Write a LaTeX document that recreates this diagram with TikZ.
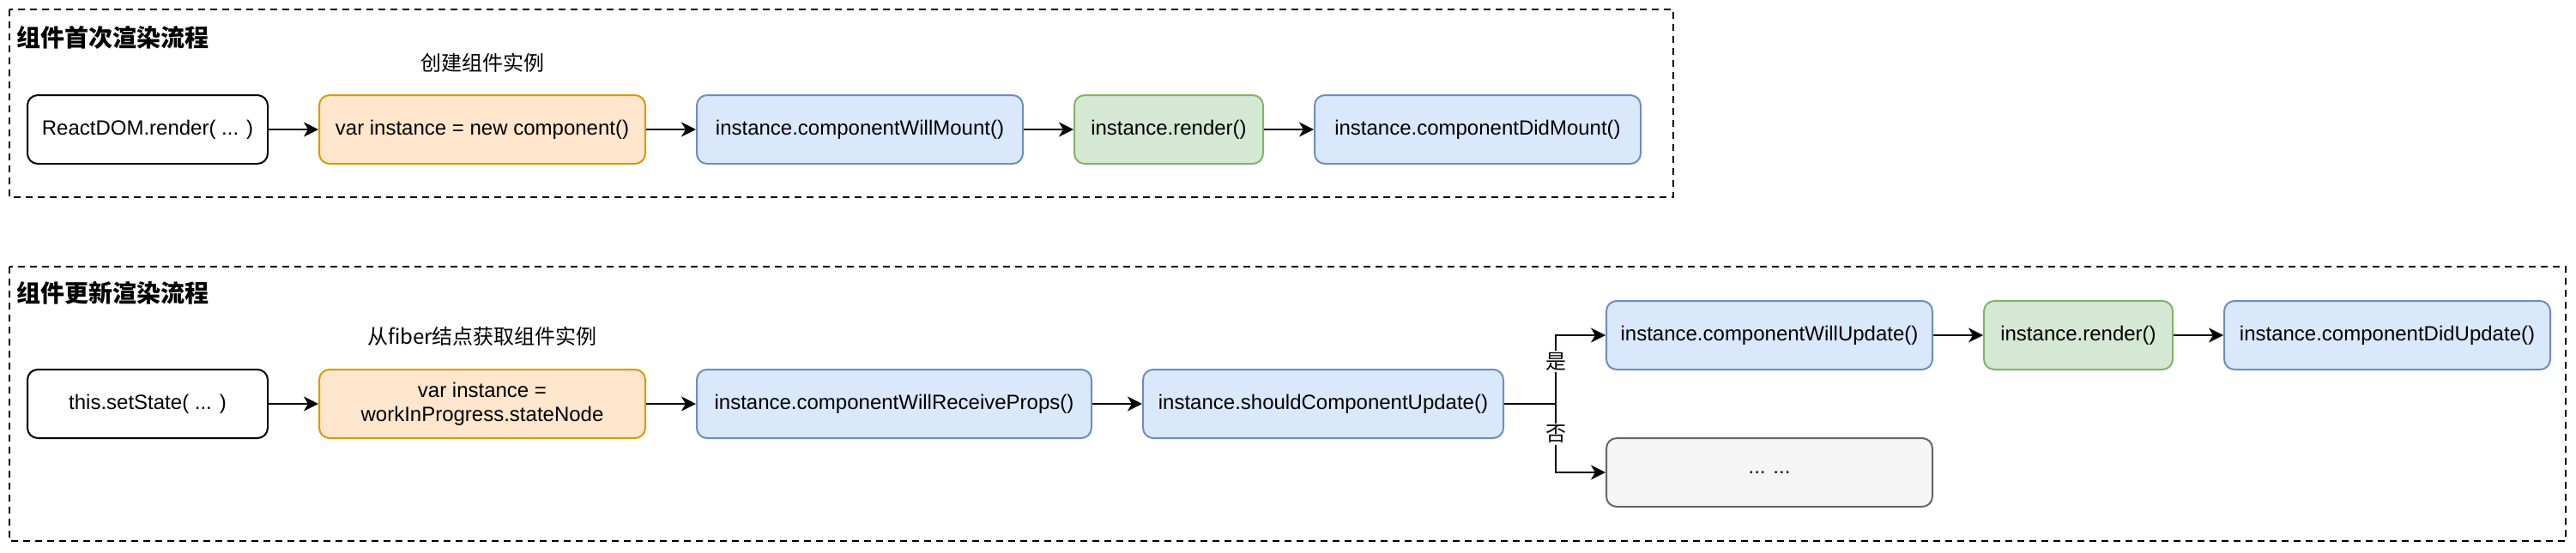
\documentclass[tikz,border=0pt]{standalone}
\usepackage{fontspec}
\setmainfont{Liberation Sans}
\newfontfamily\cjk{Noto Sans CJK SC}
\usetikzlibrary{arrows.meta}
\definecolor{orangefill}{HTML}{FFE6CC}
\definecolor{orangeline}{HTML}{D79B00}
\definecolor{bluefill}{HTML}{DAE8FC}
\definecolor{blueline}{HTML}{6C8EBF}
\definecolor{greenfill}{HTML}{D5E8D4}
\definecolor{greenline}{HTML}{82B366}
\definecolor{greyfill}{HTML}{F5F5F5}
\definecolor{greyline}{HTML}{666666}

\begin{document}
\begin{tikzpicture}[x=1pt,y=-1pt,
        stepbox/.style={draw,rounded corners=6pt,line width=1pt,minimum height=40pt,inner sep=0pt,align=center,font=\fontsize{12pt}{14pt}\selectfont},
        plainbox/.style={stepbox,fill=white,draw=black},
        makebox/.style={stepbox,fill=orangefill,draw=orangeline,minimum width=190pt},
        hookbox/.style={stepbox,fill=bluefill,draw=blueline},
        renderbox/.style={stepbox,fill=greenfill,draw=greenline,minimum width=110pt},
        restbox/.style={stepbox,fill=greyfill,draw=greyline,minimum width=190pt},
        frame/.style={draw,line width=1pt,dash pattern=on 4pt off 3pt},
        flowtitle/.style={anchor=west,inner sep=0pt,font=\cjk\bfseries\fontsize{14pt}{16pt}\selectfont},
        caption/.style={inner sep=0pt,font=\cjk\fontsize{12pt}{14pt}\selectfont},
        branchlabel/.style={fill=white,inner sep=1pt,font=\cjk\fontsize{12pt}{14pt}\selectfont},
        flow/.style={line width=1pt,-{Stealth[length=8.5pt,width=8.5pt,inset=2.5pt]}}]
        \useasboundingbox (0,0) rectangle (1501,322);

        % first render
        \coordinate (m1) at (86,75.5);
        \coordinate (m2) at (281,75.5);
        \coordinate (m3) at (501,75.5);
        \coordinate (m4) at (681,75.5);
        \coordinate (m5) at (861,75.5);

        \draw[frame] (5.5,5.5) rectangle (975,115);
        \node[flowtitle] (mounttitle) at (9.7,21.7) {组件首次渲染流程};
        \node[caption] (mountnote) at (281,36.7) {创建组件实例};

        \node[plainbox,minimum width=140pt] (reactdom) at (m1) {ReactDOM.render( ... )};
        \node[makebox] (newinst) at (m2) {var instance = new component()};
        \node[hookbox,minimum width=190pt] (willmount) at (m3) {instance.componentWillMount()};
        \node[renderbox] (mountrender) at (m4) {instance.render()};
        \node[hookbox,minimum width=190pt] (didmount) at (m5) {instance.componentDidMount()};

        \draw[flow] (reactdom) -- (newinst);
        \draw[flow] (newinst) -- (willmount);
        \draw[flow] (willmount) -- (mountrender);
        \draw[flow] (mountrender) -- (didmount);

        % update render
        \coordinate (u1) at (86,235.5);
        \coordinate (u2) at (281,235.5);
        \coordinate (u3) at (521,235.5);
        \coordinate (u4) at (771,235.5);
        \coordinate (u5) at (1031,195.5);
        \coordinate (u6) at (1211,195.5);
        \coordinate (u7) at (1391,195.5);
        \coordinate (u8) at (1031,275.5);

        \draw[frame] (5.5,155.5) rectangle (1495,315.5);
        \node[flowtitle] (updatetitle) at (9.7,171) {组件更新渲染流程};
        \node[caption] (updatenote) at (281,196) {从fiber结点获取组件实例};

        \node[plainbox,minimum width=140pt] (setstate) at (u1) {this.setState( ... )};
        \node[makebox] (fiberinst) at (u2) {var instance =\\workInProgress.stateNode};
        \node[hookbox,minimum width=230pt] (willrecv) at (u3) {instance.componentWillReceiveProps()};
        \node[hookbox,minimum width=210pt] (shouldupd) at (u4) {instance.shouldComponentUpdate()};
        \node[hookbox,minimum width=190pt] (willupd) at (u5) {instance.componentWillUpdate()};
        \node[renderbox] (updrender) at (u6) {instance.render()};
        \node[hookbox,minimum width=190pt] (didupd) at (u7) {instance.componentDidUpdate()};
        \node[restbox] (others) at (u8) {... ...};

        \draw[flow] (setstate) -- (fiberinst);
        \draw[flow] (fiberinst) -- (willrecv);
        \draw[flow] (willrecv) -- (shouldupd);
        \draw[flow] (shouldupd.east) -- ++(30,0) |- node[branchlabel,pos=0.31] {是} (willupd.west);
        \draw[flow] (shouldupd.east) -- ++(30,0) |- node[branchlabel,pos=0.22] {否} (others.west);
        \draw[flow] (willupd) -- (updrender);
        \draw[flow] (updrender) -- (didupd);
\end{tikzpicture}
\end{document}
